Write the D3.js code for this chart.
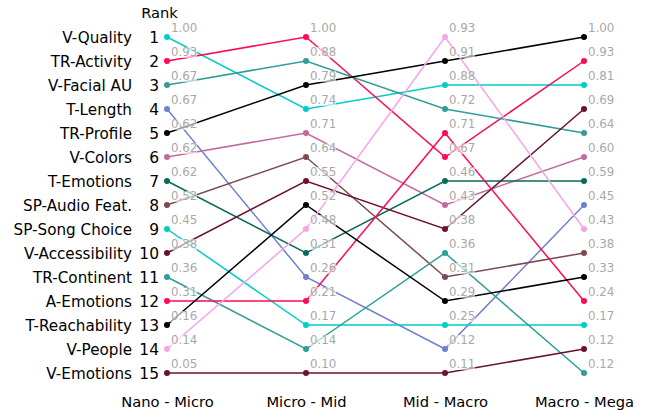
<!DOCTYPE html>
<html>
<head>
<meta charset="utf-8">
<script src="https://cdn.jsdelivr.net/npm/d3@7"></script>
<style>
    body { margin: 0; background: #fff; }
    text { font-family: "DejaVu Sans", sans-serif; }
</style>
</head>
<body>
<svg id="chart" width="650" height="414"></svg>
<script>
// periods on the x axis
const periods = ["Nano - Micro", "Micro - Mid", "Mid - Macro", "Macro - Mega"];

// features, in order of their rank in the first period
const features = ["V-Quality", "TR-Activity", "V-Facial AU", "T-Length", "TR-Profile", "V-Colors",
    "T-Emotions", "SP-Audio Feat.", "SP-Song Choice", "V-Accessibility", "TR-Continent",
    "A-Emotions", "T-Reachability", "V-People", "V-Emotions"];

const colors = ["#00cdc8", "#ff0a54", "#2e9e98", "#6f80cc", "#000000", "#c26a9e",
    "#0b6b5a", "#7b4b4d", "#00cdc8", "#6b1232", "#2e9e98",
    "#ff0a54", "#000000", "#f7a3e8", "#6b1232"];

// rank of each feature per period
const rankNanoMicro = [1, 2, 3, 4, 5, 6, 7, 8, 9, 10, 11, 12, 13, 14, 15];
const rankMicroMid = [4, 1, 2, 11, 3, 5, 10, 6, 13, 7, 14, 12, 8, 9, 15];
const rankMidMacro = [3, 6, 4, 14, 2, 8, 7, 11, 13, 9, 10, 5, 12, 1, 15];
const rankMacroMega = [3, 2, 5, 8, 1, 6, 7, 10, 13, 4, 15, 12, 11, 9, 14];

// normalized score of each feature per period
const valNanoMicro = [1.00, 0.93, 0.67, 0.67, 0.62, 0.62, 0.62, 0.52, 0.45, 0.38, 0.36, 0.31, 0.16, 0.14, 0.05];
const valMicroMid = [0.74, 1.00, 0.88, 0.26, 0.79, 0.71, 0.31, 0.64, 0.17, 0.55, 0.14, 0.21, 0.52, 0.48, 0.10];
const valMidMacro = [0.88, 0.67, 0.72, 0.12, 0.91, 0.43, 0.46, 0.31, 0.25, 0.38, 0.36, 0.71, 0.29, 0.93, 0.11];
const valMacroMega = [0.81, 0.93, 0.64, 0.45, 1.00, 0.60, 0.59, 0.38, 0.17, 0.69, 0.12, 0.24, 0.33, 0.43, 0.12];

const ranks = [rankNanoMicro, rankMicroMid, rankMidMacro, rankMacroMega];
const vals = [valNanoMicro, valMicroMid, valMidMacro, valMacroMega];

const series = features.map((f, i) => ({
    name: f,
    color: colors[i],
    points: periods.map((p, j) => ({ period: p, rank: ranks[j][i], value: vals[j][i] }))
}));

const svg = d3.select("#chart");

const x = d3.scalePoint().domain(periods).range([167, 584]);
const y = d3.scaleLinear().domain([1, 15]).range([37, 373]);

// rank numbers
svg.append("g")
    .attr("transform", "translate(159,0)")
    .call(d3.axisLeft(y).tickValues(d3.range(1, 16)).tickSize(0).tickPadding(0).tickFormat(d3.format("d")))
    .call(g => g.select(".domain").remove())
    .selectAll("text")
    .attr("font-size", 15.5)
    .attr("fill", "#000")
    .attr("dy", "0.37em");

// feature names
svg.append("g")
    .attr("transform", "translate(132,0)")
    .call(d3.axisLeft(y).tickValues(d3.range(1, 16)).tickSize(0).tickPadding(0)
        .tickFormat(r => features[rankNanoMicro.indexOf(r)]))
    .call(g => g.select(".domain").remove())
    .selectAll("text")
    .attr("font-size", 15.2)
    .attr("fill", "#000")
    .attr("dy", "0.37em");

svg.append("text")
    .attr("x", 159.5)
    .attr("y", 18)
    .attr("text-anchor", "middle")
    .attr("font-size", 14.7)
    .text("Rank");

// period labels
svg.append("g")
    .attr("transform", "translate(0,393)")
    .call(d3.axisBottom(x).tickSize(0).tickPadding(0))
    .call(g => g.select(".domain").remove())
    .selectAll("text")
    .attr("font-size", 14.7)
    .attr("fill", "#000")
    .attr("dy", "0.92em");

const line = d3.line()
    .x(d => x(d.period))
    .y(d => y(d.rank));

const lines = svg.append("g");
lines.selectAll("path")
    .data(series)
    .join("path")
    .attr("fill", "none")
    .attr("stroke", d => d.color)
    .attr("stroke-width", 1.5)
    .attr("d", d => line(d.points));

const dots = svg.append("g");
series.forEach(s => {
    dots.selectAll(null)
        .data(s.points)
        .join("circle")
        .attr("cx", d => x(d.period))
        .attr("cy", d => y(d.rank))
        .attr("r", 3)
        .attr("fill", s.color);
});

// value labels with a faint white box
const labels = svg.append("g");
const allPoints = series.flatMap(s => s.points);
const lab = labels.selectAll("g")
    .data(allPoints)
    .join("g")
    .attr("transform", d => `translate(${x(d.period) + 4},${y(d.rank) - 5})`);

lab.append("rect")
    .attr("x", -1)
    .attr("y", -9)
    .attr("width", 27)
    .attr("height", 11)
    .attr("fill", "#fff")
    .attr("fill-opacity", 0.6);

lab.append("text")
    .attr("font-size", 11.8)
    .attr("fill", "#a8a8a8")
    .text(d => d.value.toFixed(2));
</script>
</body>
</html>
